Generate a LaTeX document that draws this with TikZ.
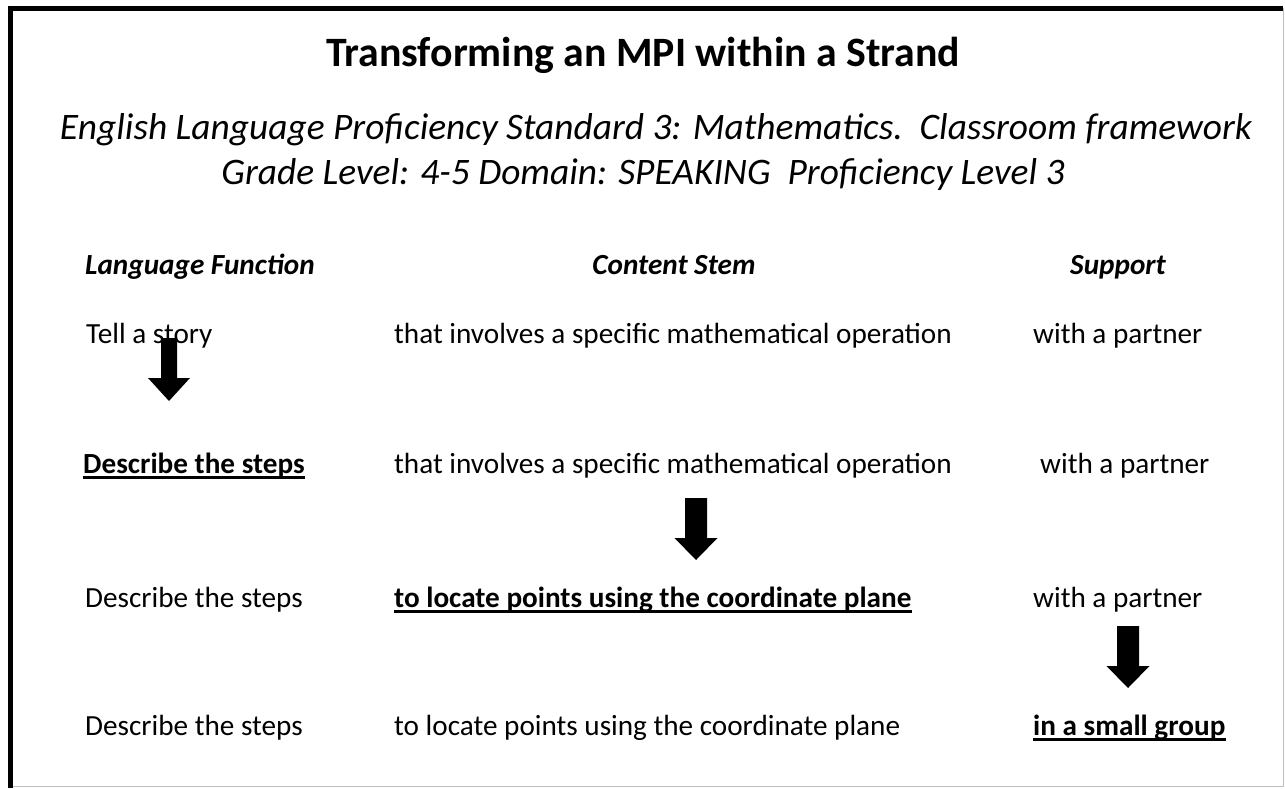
\documentclass[tikz,border=0pt]{standalone}
\usepackage{fontspec}
\setmainfont{Carlito}
\usetikzlibrary{calc}

\tikzset{
  txt/.style={anchor=base west, inner sep=0pt, font=\fontsize{29.2}{35}\selectfont},
  key/.style={txt, font=\fontsize{29.2}{35}\selectfont\bfseries},
  hd/.style={anchor=base, inner sep=0pt, font=\fontsize{29.2}{35}\selectfont\bfseries\itshape},
  ul/.style={line width=2.6pt},
  pics/blockarrow/.style n args={4}{code={
    \fill (-#1,0) -- (#1,0) -- (#1,#3) -- (#2,#3) -- (0,#3+#4) -- (-#2,#3) -- (-#1,#3) -- cycle;
  }}
}

\begin{document}
\begin{tikzpicture}[x=1pt,y=-1pt]
\useasboundingbox (0,0) rectangle (1285,788);
% frame
\draw[black!25, line width=1pt] (1283,8) -- (1283,786) -- (10,786);
\draw[line width=5pt] (10,788) -- (10,8) -- (1283,8);

% title
\node[anchor=base, inner sep=0pt, font=\fontsize{41.8}{50}\selectfont\bfseries] (title) at (643,66) {Transforming an MPI within a Strand};
\node[anchor=base, inner sep=0pt, font=\fontsize{37.4}{45}\selectfont\itshape] (sub1) at (656,139) {English Language Proficiency Standard 3: Mathematics.\ \ Classroom framework};
\node[anchor=base, inner sep=0pt, font=\fontsize{37.4}{45}\selectfont\itshape] (sub2) at (643,184) {Grade Level: 4-5 Domain: SPEAKING\ \ Proficiency Level 3};

% column heads
\node[hd] (hlf) at (200,274) {Language Function};
\node[hd] (hcs) at (674,274) {Content Stem};
\node[hd] (hsu) at (1118,274) {Support};

% row 1
\node[txt] (a1) at (86,343) {Tell a story};
\node[txt] (b1) at (394,343) {that involves a specific mathematical operation};
\node[txt] (c1) at (1033,343) {with a partner};
% row 2
\node[key] (a2) at (83,473) {Describe the steps};
\node[txt] (b2) at (394,473) {that involves a specific mathematical operation};
\node[txt] (c2) at (1040,473) {with a partner};
% row 3
\node[txt] (a3) at (85,607) {Describe the steps};
\node[key] (b3) at (394,607) {to locate points using the coordinate plane};
\node[txt] (c3) at (1033,607) {with a partner};
% row 4
\node[txt] (a4) at (85,735) {Describe the steps};
\node[txt] (b4) at (394,735) {to locate points using the coordinate plane};
\node[key] (c4) at (1033,735) {in a small group};

% underlines
\foreach \n in {a2,b3,c4}
  \draw[ul] ([yshift=-4.5pt]\n.base west) -- ([yshift=-4.5pt]\n.base east);

% arrows
\pic at (169,338) {blockarrow={8}{21}{40}{23}};
\pic at (696,498) {blockarrow={11}{21.5}{40}{22}};
\pic at (1128,626) {blockarrow={11}{21.5}{40}{22}};
\end{tikzpicture}
\end{document}
